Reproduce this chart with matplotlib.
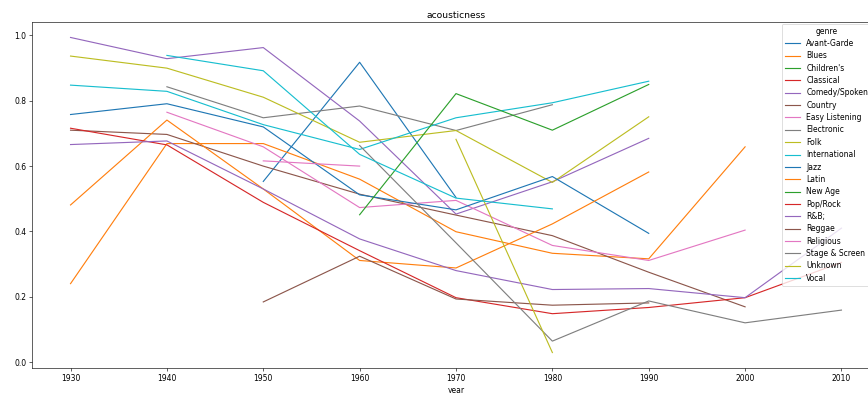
import numpy as np
import matplotlib
matplotlib.use("Agg")
import matplotlib.pyplot as plt

nan = np.nan
decades = [1930, 1940, 1950, 1960, 1970, 1980, 1990, 2000, 2010]
genres = ["Avant-Garde", "Blues", "Children's", "Classical", "Comedy/Spoken",
          "Country", "Easy Listening", "Electronic", "Folk", "International",
          "Jazz", "Latin", "New Age", "Pop/Rock", "R&B;", "Reggae", "Religious",
          "Stage & Screen", "Unknown", "Vocal"]

avant_garde = [nan, nan, 0.553, 0.918, 0.504, nan, nan, nan, nan]
blues = [0.240, 0.669, 0.669, 0.560, 0.399, 0.333, 0.316, 0.659, nan]
childrens = [nan, nan, nan, nan, nan, nan, nan, nan, nan]
classical = [nan, nan, nan, nan, nan, nan, nan, nan, nan]
comedy_spoken = [0.994, 0.929, 0.963, 0.738, 0.453, 0.552, 0.685, nan, nan]
country = [0.710, 0.697, 0.600, 0.514, 0.450, 0.387, 0.275, 0.169, nan]
easy_listening = [nan, 0.765, 0.659, 0.473, 0.495, 0.357, 0.311, 0.404, nan]
electronic = [nan, 0.843, 0.748, 0.784, 0.709, 0.788, nan, nan, nan]
folk = [0.937, 0.900, 0.811, 0.673, 0.709, 0.550, 0.751, nan, nan]
international = [0.848, 0.829, 0.727, 0.651, 0.748, 0.794, 0.860, nan, nan]
jazz = [0.758, 0.791, 0.720, 0.512, 0.466, 0.568, 0.394, nan, nan]
latin = [0.481, 0.741, 0.530, 0.311, 0.288, 0.423, 0.582, nan, nan]
new_age = [nan, nan, nan, 0.451, 0.822, 0.710, 0.850, nan, nan]
pop_rock = [0.716, 0.665, 0.489, 0.341, 0.197, 0.148, 0.167, 0.197, 0.305]
rnb = [0.666, 0.677, 0.530, 0.377, 0.280, 0.222, 0.225, 0.197, 0.410]
reggae = [nan, nan, 0.184, 0.324, 0.193, 0.174, 0.181, nan, nan]
religious = [nan, nan, 0.616, 0.600, nan, nan, nan, nan, nan]
stage_screen = [nan, nan, nan, 0.663, 0.365, 0.064, 0.187, 0.120, 0.159]
unknown = [nan, nan, nan, nan, 0.682, 0.029, nan, nan, nan]
vocal = [nan, 0.939, 0.892, 0.636, 0.502, 0.469, nan, nan, nan]

series = [avant_garde, blues, childrens, classical, comedy_spoken, country,
          easy_listening, electronic, folk, international, jazz, latin, new_age,
          pop_rock, rnb, reggae, religious, stage_screen, unknown, vocal]

DPI = 55
fig = plt.figure(figsize=(868 / DPI, 393 / DPI), dpi=DPI)
ax = fig.add_axes([32 / 868, (393 - 368.3) / 393, 848 / 868, (368.3 - 21.7) / 393])

colors = plt.rcParams['axes.prop_cycle'].by_key()['color']
for i, (g, vals) in enumerate(zip(genres, series)):
    ax.plot(decades, vals, label=g, color=colors[i % 10], linewidth=1.5)

ax.set_xticks(decades[:])
ax.set_title("acousticness", pad=5)
ax.set_xlabel("year")
ax.legend(title="genre", loc="upper right", labelspacing=0.44,
          bbox_to_anchor=(1 - 5 / 848, 1 + 2 / 346.6))

fig.savefig("out.png", dpi=DPI)
